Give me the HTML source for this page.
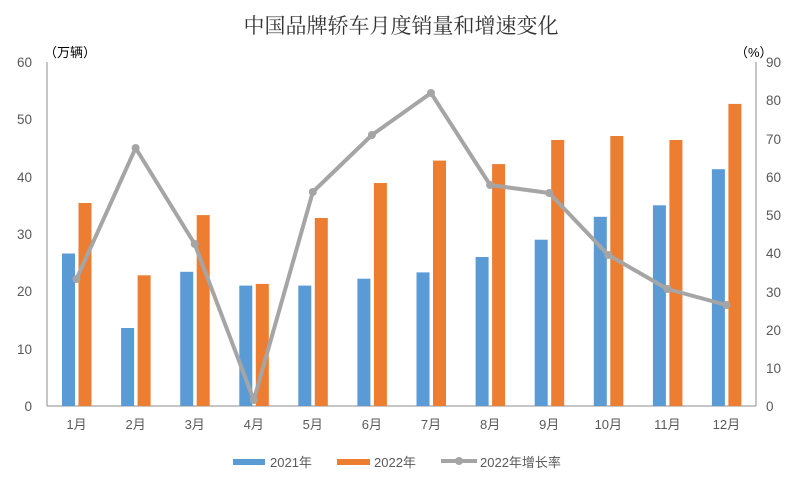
<!DOCTYPE html>
<html><head><meta charset="utf-8"><style>
html,body{margin:0;padding:0;background:#fff;}
text{font-family:"Liberation Sans","Noto Sans CJK SC",sans-serif;fill:#595959;}
</style></head><body>
<svg width="803" height="477" xmlns="http://www.w3.org/2000/svg">
<rect width="803" height="477" fill="#fff"/>
<text x="401" y="33" font-size="21" text-anchor="middle" style="fill:#333;font-family:'Liberation Serif','Noto Serif CJK SC',serif">中国品牌轿车月度销量和增速变化</text>
<text x="44" y="57" font-size="13" style="fill:#000">（万辆）</text>
<text x="735" y="57" font-size="13" style="fill:#000">（%）</text>
<g font-size="13.5" text-anchor="end">
<text x="32" y="411">0</text><text x="32" y="354">10</text><text x="32" y="296">20</text><text x="32" y="239">30</text><text x="32" y="182">40</text><text x="32" y="124">50</text><text x="32" y="67">60</text>
</g>
<g font-size="13.5" text-anchor="start">
<text x="766" y="411">0</text><text x="766" y="373">10</text><text x="766" y="335">20</text><text x="766" y="297">30</text><text x="766" y="258">40</text><text x="766" y="220">50</text><text x="766" y="182">60</text><text x="766" y="144">70</text><text x="766" y="105">80</text><text x="766" y="67">90</text>
</g>
<line x1="47" y1="62" x2="47" y2="406" stroke="#8c8c8c"/>
<line x1="756" y1="62" x2="756" y2="406" stroke="#8c8c8c"/>
<line x1="47" y1="406" x2="756" y2="406" stroke="#8c8c8c"/>
<g fill="#5b9bd5">
<rect x="62" y="253.5" width="13" height="152.5"/>
<rect x="121.1" y="328" width="13" height="78"/>
<rect x="180.2" y="271.8" width="13" height="134.2"/>
<rect x="239.3" y="285.6" width="13" height="120.4"/>
<rect x="298.3" y="285.6" width="13" height="120.4"/>
<rect x="357.4" y="278.7" width="13" height="127.3"/>
<rect x="416.5" y="272.4" width="13" height="133.6"/>
<rect x="475.6" y="257" width="13" height="149"/>
<rect x="534.7" y="239.7" width="13" height="166.3"/>
<rect x="593.8" y="216.8" width="13" height="189.2"/>
<rect x="652.9" y="205.3" width="13" height="200.7"/>
<rect x="711.9" y="169.2" width="13" height="236.8"/>
</g>
<g fill="#ed7d31">
<rect x="78.5" y="203" width="13" height="203"/>
<rect x="137.6" y="275.3" width="13" height="130.7"/>
<rect x="196.7" y="215.1" width="13" height="190.9"/>
<rect x="255.8" y="283.9" width="13" height="122.1"/>
<rect x="314.8" y="218" width="13" height="188"/>
<rect x="373.9" y="183" width="13" height="223"/>
<rect x="433" y="160.6" width="13" height="245.4"/>
<rect x="492.1" y="164.1" width="13" height="241.9"/>
<rect x="551.2" y="140" width="13" height="266"/>
<rect x="610.3" y="136" width="13" height="270"/>
<rect x="669.4" y="140" width="13" height="266"/>
<rect x="728.4" y="103.9" width="13" height="302.1"/>
</g>
<polyline fill="none" stroke="#a5a5a5" stroke-width="4" stroke-linejoin="round" points="76.5,279 135.6,148 194.7,244 253.8,400 312.8,192 371.9,135 431,93 490.1,185 549.2,193 608.3,255 667.4,289 726.4,305"/>
<g fill="#a5a5a5">
<circle cx="76.5" cy="279" r="4"/><circle cx="135.6" cy="148" r="4"/><circle cx="194.7" cy="244" r="4"/><circle cx="253.8" cy="400" r="4"/><circle cx="312.8" cy="192" r="4"/><circle cx="371.9" cy="135" r="4"/><circle cx="431" cy="93" r="4"/><circle cx="490.1" cy="185" r="4"/><circle cx="549.2" cy="193" r="4"/><circle cx="608.3" cy="255" r="4"/><circle cx="667.4" cy="289" r="4"/><circle cx="726.4" cy="305" r="4"/>
</g>
<g font-size="13" text-anchor="middle">
<text x="76.5" y="429">1月</text><text x="135.6" y="429">2月</text><text x="194.7" y="429">3月</text><text x="253.8" y="429">4月</text><text x="312.8" y="429">5月</text><text x="371.9" y="429">6月</text><text x="431" y="429">7月</text><text x="490.1" y="429">8月</text><text x="549.2" y="429">9月</text><text x="608.3" y="429">10月</text><text x="667.4" y="429">11月</text><text x="726.4" y="429">12月</text>
</g>
<rect x="233" y="459" width="32" height="6" fill="#5b9bd5"/>
<text x="270" y="467" font-size="13">2021年</text>
<rect x="337" y="459" width="33" height="6" fill="#ed7d31"/>
<text x="374" y="467" font-size="13">2022年</text>
<line x1="441" y1="461" x2="477" y2="461" stroke="#a5a5a5" stroke-width="4"/>
<circle cx="459" cy="461" r="4" fill="#a5a5a5"/>
<text x="480" y="467" font-size="13">2022年增长率</text>
</svg>
</body></html>
